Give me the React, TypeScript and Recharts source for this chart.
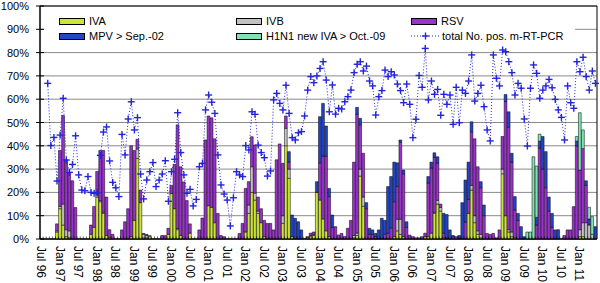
import React from "react";
import {
  ComposedChart,
  Bar,
  Line,
  XAxis,
  YAxis,
  CartesianGrid,
  ReferenceArea,
} from "recharts";

const MONTH_NAMES = ["Jul", "Aug", "Sep", "Oct", "Nov", "Dec", "Jan", "Feb", "Mar", "Apr", "May", "Jun"];
const SEASON_YEARS = ["96", "97", "98", "99", "00", "01", "02", "03", "04", "05", "06", "07", "08", "09", "10", "11"];

// one category per month, Jul 96 .. Jun 11
const MONTHS: string[] = [];
for (let s = 0; s < SEASON_YEARS.length - 1; s++) {
  MONTH_NAMES.forEach((m, k) => MONTHS.push(`${m} ${k < 6 ? SEASON_YEARS[s] : SEASON_YEARS[s + 1]}`));
}

const TICK_LABELS = [
  "Jul 96", "Jan 97", "Jul 97", "Jan 98", "Jul 98", "Jan 99", "Jul 99", "Jan 00", "Jul 00", "Jan 01",
  "Jul 01", "Jan 02", "Jul 02", "Jan 03", "Jul 03", "Jan 04", "Jul 04", "Jan 05", "Jul 05", "Jan 06",
  "Jul 06", "Jan 07", "Jul 07", "Jan 08", "Jul 08", "Jan 09", "Jul 09", "Jan 10", "Jul 10", "Jan 11",
];
const Y_TICKS = [0, 10, 20, 30, 40, 50, 60, 70, 80, 90, 100];

// % positive per month, one row per season (Jul..Jun)
const IVA = [
  0, 0, 0, 0, 0, 3, 13, 6, 1, 0.5, 0, 0,
  0, 0, 0, 0, 2, 5, 18, 16, 11, 1.5, 0.5, 0,
  0, 0, 0, 0, 0, 1, 8, 34.6, 15.6, 0.5, 0.5, 1,
  0, 0, 0, 0, 0, 2, 19.5, 13, 4, 1.5, 0, 0,
  2.5, 0, 0, 0, 0, 0, 14.3, 13.6, 7, 0, 0, 0,
  0, 0, 0, 0, 0, 0, 3, 11, 20, 16.7, 11, 7,
  1, 0, 0, 0, 0, 0, 6.7, 40, 26, 1, 0, 0,
  0, 0, 0.5, 1, 1.5, 20, 16.7, 8.6, 3.5, 1, 0, 0,
  0, 0, 0, 0, 0, 0.5, 1.5, 27, 14, 0, 0, 0,
  0, 0, 0, 0, 0, 0, 1, 3.5, 2, 0, 0, 0,
  0, 0, 0, 0, 1, 1, 2.5, 11, 15, 12, 0.5, 0,
  0, 0, 0, 0, 0, 0, 11, 21, 7, 2, 0.5, 0,
  0, 0, 0, 0, 0, 28, 10, 3, 1, 0, 0, 0,
  0, 0, 0, 0, 0, 0, 0, 0, 0, 0, 0, 0,
  0, 0, 0, 0, 0, 0, 1, 1, 0, 0, 0, 0,
];

const IVB = [
  0, 0, 0, 0, 0, 0.5, 1, 9, 3, 3, 0, 0,
  0, 0, 0, 0, 0, 0, 1, 0.5, 0.5, 0, 0, 0,
  0, 0, 0, 0, 0, 0, 0, 4, 0, 1.5, 1, 0.5,
  0, 0, 0, 0, 0, 0, 0, 0, 0.5, 0, 0, 0,
  0, 0, 0, 0, 0, 0, 0, 0, 0, 0, 0, 0,
  0, 0, 0, 0, 0, 0, 0, 3.6, 11, 3, 1, 0,
  0, 0, 0, 0, 0, 0, 3.3, 7.5, 4, 0, 0, 0,
  0, 0, 0, 0.5, 0.5, 0, 0, 0, 0, 0, 0, 0,
  0, 0, 0, 0, 0, 1, 1, 3, 4, 0, 0, 0,
  0, 0, 0, 0, 0, 0, 0, 5, 6.5, 1, 0, 0,
  0, 0, 0, 0, 0, 0, 0, 0.5, 1.6, 1.5, 0, 0,
  0, 0, 0, 0, 0, 0, 0, 2, 3, 1.5, 1.5, 0,
  0, 0, 0, 0, 0, 2, 0, 1, 2, 0.5, 0, 0,
  0, 0, 0, 0, 0, 0, 0, 0, 0, 0, 0, 0,
  0, 0, 0, 0, 0, 0, 3, 6, 7, 6, 2, 0,
];

const RSV = [
  0, 0, 0, 0, 0, 3, 24, 38, 30, 25, 25, 13.5,
  0, 0, 0, 0, 4, 9, 10, 21.5, 26.5, 16.5, 3.5, 2,
  0, 0, 3.9, 7.4, 13, 39, 30, 4.2, 5.4, 0.4, 0.5, 0,
  0, 0, 0, 1.5, 1.5, 2.6, 3.5, 19, 44.5, 29.5, 24.5, 16.5,
  4, 0, 0, 3.9, 9, 42.5, 38.5, 38.4, 36, 11, 1.5, 1,
  0, 0, 0, 0, 2.4, 6.7, 18.7, 10, 12.9, 20.6, 6, 6,
  7, 6.7, 6.7, 3.9, 34, 40.8, 22.5, 5.3, 3, 0, 0, 0,
  0, 0, 0.5, 1, 1, 0, 16, 27, 32, 17.2, 5, 5.3,
  1.7, 2.4, 1, 4.6, 8, 31.5, 51, 19, 18.8, 13, 2, 1.9,
  1, 0, 0, 2, 2.5, 4.8, 15, 14, 33, 27, 5, 1.7,
  1, 0.5, 0.5, 1, 1.5, 23, 28, 23.5, 16, 1.5, 2, 0.5,
  0, 1, 1, 0.5, 0, 7.3, 6, 23, 33, 27.5, 20, 10,
  2.4, 2, 2.4, 0.5, 3.9, 14, 49, 44, 30, 12, 8, 0,
  0, 0, 0, 0, 6, 39, 30, 22, 12, 5, 0, 0,
  0, 1.5, 3.9, 3.9, 13.9, 40, 25.6, 31.8, 16, 0, 0, 0,
];

const MPV = [
  0, 0, 0, 0, 0, 0, 0, 0, 0, 0, 0, 0,
  0, 0, 0, 0, 0, 0, 0, 0, 0, 0, 0, 0,
  0, 0, 0, 0, 0, 0, 0, 0, 0, 0, 0, 0,
  0, 0, 0, 0, 0, 0, 0, 0, 0, 0, 0, 0,
  0, 0, 0, 0, 0, 0, 0, 0, 0, 0, 0, 0,
  0, 0, 0, 0, 0, 0, 0, 0, 0, 0, 0, 0,
  0, 0, 0, 0, 0, 0, 0, 0, 4.5, 9.3, 8.9, 7.4,
  3.9, 0, 0, 0, 0, 4.6, 19.8, 22.6, 13, 3.5, 5.3, 0,
  0, 0, 0, 0, 0, 0, 3, 2.8, 0, 2.6, 2.6, 2,
  1.4, 3.9, 8.9, 6, 20, 22, 17, 10.2, 1, 1.6, 2.4, 0,
  0, 0, 0, 0, 0, 2.8, 2.5, 2, 2.7, 0, 8.5, 10,
  3.9, 0.5, 0, 1, 15.6, 18, 16, 4.3, 0, 0, 2.6, 4.6,
  0, 0, 0, 0, 0, 0, 3, 6.6, 3.8, 5.7, 3, 5.3,
  1, 0, 0, 0, 3.3, 3, 14, 15.5, 6, 6, 3.9, 4,
  0, 0, 0, 0, 0, 2, 0, 0, 2, 2.6, 0, 5.3,
];

const H1N1 = [
  ...new Array(156).fill(0),
  0, 3, 3, 35.3, 22, 3, 0, 0, 0, 0, 0, 0,
  0, 0, 0, 0, 0, 2, 24.6, 8, 0, 5, 7.6, 0,
];

const TOTAL = [
  null, null, 66.8, 40.1, 43.6, 24.9, 44.6, 60.4, 33.9, 28.6, 32.0, 44.3,
  27.5, 21.0, 20.7, 26.8, 20.0, 19.6, 19.9, 35.9, 45.9, 48.1, 33.5, 24.3,
  22.0, 18.2, 44.9, 36.1, 51.5, 58.9, 46.8, 52.1, 27.9, 17.2, 25.3, 28.9,
  32.8, 22.5, 25.3, 27.9, 33.6, 16.2, 28.9, 34.2, 54.2, 37.1, 27.5, 19.6,
  21.3, 14.2, 17.0, 31.0, 32.5, 55.4, 61.8, 58.7, 53.9, 36.1, 23.2, 19.3,
  16.7, 5.6, 17.7, 28.9, 27.5, 26.8, 40.1, 38.2, 54.6, 53.5, 40.3, 37.1,
  34.9, 27.0, 29.2, 59.7, 62.5, 58.2, 55.4, 66.0, 53.9, 43.5, 42.5, 45.6,
  46.1, 52.8, 63.9, 69.7, 67.1, 70.0, 73.2, 76.1, 68.2, 54.6, 66.1, 53.6,
  56.1, 55.8, 58.9, 61.1, 63.9, 71.4, 75.0, 76.1, 72.1, 74.2, 67.8, 65.7,
  53.2, 61.1, 63.7, 72.5, 69.7, 71.8, 70.4, 66.5, 63.7, 58.5, 66.5, 57.8,
  43.5, 51.4, 70.2, 65.1, 81.8, 59.7, 67.8, 62.1, 64.2, 53.1, 62.1, 57.8,
  61.8, 49.2, 65.1, 49.9, 63.9, 62.5, 67.8, 79.0, 59.2, 62.5, 66.0, 56.8,
  46.8, 42.1, 79.0, 69.0, 65.7, 81.1, 80.4, 76.1, 71.4, 61.8, 66.8, 64.7,
  51.5, 39.9, 64.7, 74.7, 71.1, 60.4, 63.9, 65.7, 68.5, 64.9, 59.9, 55.4,
  52.2, 42.5, 65.7, 58.5, 56.1, 76.1, 71.8, 78.0, 69.7, 63.9, 72.1, 66.8,
];

const COLORS = {
  IVA: "#cde43a",
  IVB: "#c2c2c2",
  RSV: "#9a32cc",
  MPV: "#2344c8",
  H1N1: "#82e2b4",
  line: "#2424dc",
};

const data = MONTHS.map((month, i) => ({
  month,
  IVA: IVA[i],
  IVB: IVB[i],
  RSV: RSV[i],
  MPV: MPV[i],
  H1N1: H1N1[i],
  total: TOTAL[i],
}));

const FONT = "'Liberation Sans', Arial, Helvetica, sans-serif";
const BAND = 557 / MONTHS.length;
const Y_TICK_MARGIN = 11;

function MonthTick(props: any) {
  const { x, y, payload } = props;
  const edge = x - BAND / 2;
  return (
    <g>
      <line x1={edge} x2={edge} y1={y - 2.5} y2={y} stroke="#000" strokeWidth={0.6} />
      {TICK_LABELS.includes(payload.value) && (
        <text
          transform={`translate(${x - 0.5},${y + 7}) rotate(90)`}
          fontSize={12}
          fill="#000"
          dominantBaseline="central"
          textAnchor="start"
        >
          {payload.value}
        </text>
      )}
    </g>
  );
}

function PercentTick(props: any) {
  const { x, y, payload } = props;
  const ax = x + Y_TICK_MARGIN;
  return (
    <g>
      <line x1={ax - 4} x2={ax + 4} y1={y} y2={y} stroke="#000" />
      <text x={x} y={y} dy={4} textAnchor="end" fontSize={11} fill="#000">
        {payload.value}%
      </text>
    </g>
  );
}

function PlusDot(props: any) {
  const { cx, cy, index, value } = props;
  if (cx == null || cy == null || value == null) return <g key={`d${index}`} />;
  return (
    <g key={`d${index}`} stroke={COLORS.line} strokeWidth={1.4}>
      <line x1={cx - 3.5} x2={cx + 3.5} y1={cy} y2={cy} />
      <line x1={cx} x2={cx} y1={cy - 3.5} y2={cy + 3.5} />
    </g>
  );
}

function Swatch({ color }: { color: string }) {
  return (
    <span
      style={{
        display: "inline-block",
        width: 26,
        height: 7,
        boxSizing: "border-box",
        border: "1px solid #000",
        background: color,
        marginRight: 4,
      }}
    />
  );
}

const legendItems = [
  { label: "IVA", color: COLORS.IVA, left: 59, top: 15 },
  { label: "IVB", color: COLORS.IVB, left: 236, top: 15 },
  { label: "RSV", color: COLORS.RSV, left: 411, top: 15 },
  { label: "MPV > Sep.-02", color: COLORS.MPV, left: 59, top: 30 },
  { label: "H1N1 new IVA > Oct.-09", color: COLORS.H1N1, left: 236, top: 30 },
];

function ChartLegend() {
  return (
    <div
      style={{
        position: "absolute",
        left: 44,
        top: 7,
        width: 531,
        height: 37,
        background: "#fff",
        fontFamily: FONT,
        fontSize: 11,
        color: "#000",
      }}
    >
      {legendItems.map((it) => (
        <div
          key={it.label}
          style={{
            position: "absolute",
            left: it.left - 44,
            top: it.top - 7,
            height: 12,
            display: "flex",
            alignItems: "center",
            whiteSpace: "nowrap",
          }}
        >
          <Swatch color={it.color} />
          {it.label}
        </div>
      ))}
      <div
        style={{
          position: "absolute",
          left: 411 - 44,
          top: 30 - 7,
          height: 12,
          display: "flex",
          alignItems: "center",
          whiteSpace: "nowrap",
        }}
      >
        <svg width={30} height={12} style={{ marginRight: 1 }}>
          <line x1={0} x2={30} y1={6} y2={6} stroke={COLORS.line} strokeDasharray="1 2" />
          <line x1={11} x2={18} y1={6} y2={6} stroke={COLORS.line} strokeWidth={1.4} />
          <line x1={14.5} x2={14.5} y1={2.5} y2={9.5} stroke={COLORS.line} strokeWidth={1.4} />
        </svg>
        total No. pos. m-RT-PCR
      </div>
    </div>
  );
}

export default function App() {
  return (
    <div style={{ position: "absolute", left: 0, top: 0, width: 600, height: 283, background: "#fff" }}>
      <ComposedChart
        width={600}
        height={283}
        data={data}
        margin={{ top: 6, right: 3, bottom: 0, left: 0 }}
        barCategoryGap={0}
        barGap={0}
        barSize={BAND}
        style={{ fontFamily: FONT }}
      >
        <CartesianGrid vertical={false} stroke="#8a8a8a" />
        <XAxis
          dataKey="month"
          interval={0}
          height={44}
          tickLine={false}
          tickSize={0}
          tickMargin={0}
          axisLine={{ stroke: "#000" }}
          tick={(p: any) => <MonthTick {...p} />}
        />
        <YAxis
          domain={[0, 100]}
          ticks={Y_TICKS}
          interval={0}
          width={40}
          tickLine={false}
          tickSize={0}
          tickMargin={Y_TICK_MARGIN}
          axisLine={{ stroke: "#000" }}
          tick={(p: any) => <PercentTick {...p} />}
        />
        <Bar dataKey="IVA" stackId="v" fill={COLORS.IVA} stroke="#000" strokeWidth={0.5} isAnimationActive={false} />
        <Bar dataKey="IVB" stackId="v" fill={COLORS.IVB} stroke="#000" strokeWidth={0.5} isAnimationActive={false} />
        <Bar dataKey="RSV" stackId="v" fill={COLORS.RSV} stroke="#000" strokeWidth={0.5} isAnimationActive={false} />
        <Bar dataKey="MPV" stackId="v" fill={COLORS.MPV} stroke="#000" strokeWidth={0.5} isAnimationActive={false} />
        <Bar dataKey="H1N1" stackId="v" fill={COLORS.H1N1} stroke="#000" strokeWidth={0.5} isAnimationActive={false} />
        <Line
          dataKey="total"
          type="linear"
          stroke={COLORS.line}
          strokeWidth={1}
          strokeDasharray="1 2"
          dot={PlusDot}
          activeDot={false}
          isAnimationActive={false}
        />
        <ReferenceArea y1={0} y2={100} fill="none" stroke="#000" strokeWidth={1} ifOverflow="visible" />
      </ComposedChart>
      <ChartLegend />
    </div>
  );
}
